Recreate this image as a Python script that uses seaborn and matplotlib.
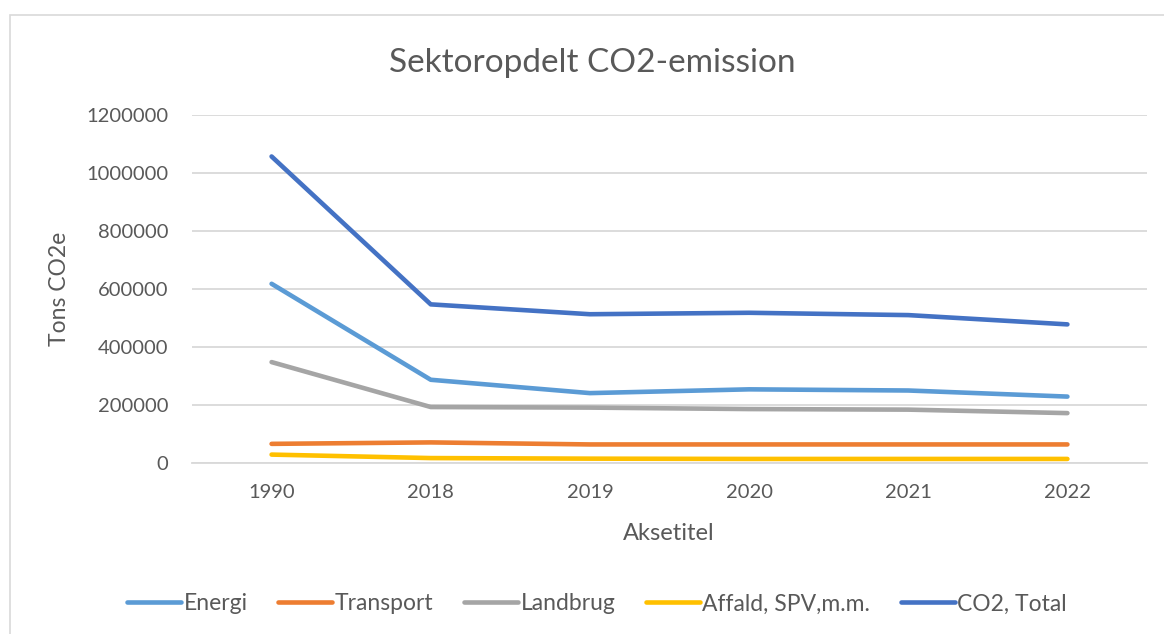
import pandas as pd
import matplotlib
matplotlib.use("Agg")
import matplotlib.pyplot as plt
import matplotlib.patches as mpatches
import seaborn as sns

#------ data ------
years = ['1990', '2018', '2019', '2020', '2021', '2022']
energi = [618000, 287000, 241000, 254000, 250000, 229000]
transport = [66000, 71000, 64000, 64000, 64000, 64000]
landbrug = [348000, 193000, 191000, 186000, 184000, 172000]
affald = [29000, 17000, 15000, 14000, 14000, 14000]
total = [1057000, 547000, 513000, 518000, 510000, 478000]

series = ['Energi', 'Transport', 'Landbrug', 'Affald, SPV,m.m.', 'CO2, Total']
colors = ['#5B9BD5', '#ED7D31', '#A5A5A5', '#FFC000', '#4472C4']

df = pd.DataFrame({'Year': years, 'Energi': energi, 'Transport': transport,
                   'Landbrug': landbrug, 'Affald, SPV,m.m.': affald,
                   'CO2, Total': total})
long_df = df.melt(id_vars='Year', var_name='Sektor', value_name='Tons')

sns.set_theme(style='white')
plt.rcParams['font.family'] = ['Lato', 'DejaVu Sans']
txt = '#595959'

fig = plt.figure(figsize=(11.64, 6.34), dpi=100)
ax = fig.add_axes([192/1164, 1-463/634, (1147-192)/1164, (463-115)/634])

sns.lineplot(data=long_df, x='Year', y='Tons', hue='Sektor', hue_order=series,
             palette=dict(zip(series, colors)), linewidth=3.3, ax=ax,
             solid_capstyle='round', sort=False)

ax.set_xlim(-0.5, len(years) - 0.5)
ax.set_ylim(0, 1200000)
ax.set_yticks(range(0, 1200001, 200000))
ax.set_yticklabels([str(v) for v in range(0, 1200001, 200000)])
ax.yaxis.grid(True, color='#D9D9D9', linewidth=1.3)
ax.set_axisbelow(True)
for s in ['top', 'right', 'left']:
    ax.spines[s].set_visible(False)
ax.spines['bottom'].set_color('#D9D9D9')
ax.spines['bottom'].set_linewidth(1.3)
ax.tick_params(axis='both', length=0, labelsize=14.5, labelcolor=txt)
ax.tick_params(axis='y', pad=17)
ax.tick_params(axis='x', pad=15)
ax.set_xlabel('')
ax.set_ylabel('')

fig.text(592/1164, 1-63/634, 'Sektoropdelt CO2-emission', ha='center',
         va='center', fontsize=24, color=txt)
fig.text(60/1164, 1-289/634, 'Tons CO2e', rotation=90, ha='center',
         va='center', fontsize=16.5, color=txt)
fig.text(669/1164, 1-533/634, 'Aksetitel', ha='center', va='center',
         fontsize=17, color=txt)

handles, labels = ax.get_legend_handles_labels()
ax.legend_.remove()
fig.legend(handles, labels, loc='center', bbox_to_anchor=(597/1164, 1-604/634),
           ncol=5, frameon=False, fontsize=16.5, handlelength=2.35,
           handletextpad=0.12, columnspacing=1.33, labelcolor=txt)

# chart border (right and bottom edges fall outside the picture)
fig.patches.append(mpatches.Rectangle((9.5/1164, -0.1), 1.2, 1.1 - 15/634,
                                      transform=fig.transFigure, fill=False,
                                      edgecolor='#D9D9D9', linewidth=1.2))

fig.savefig('out.png', dpi=100)
